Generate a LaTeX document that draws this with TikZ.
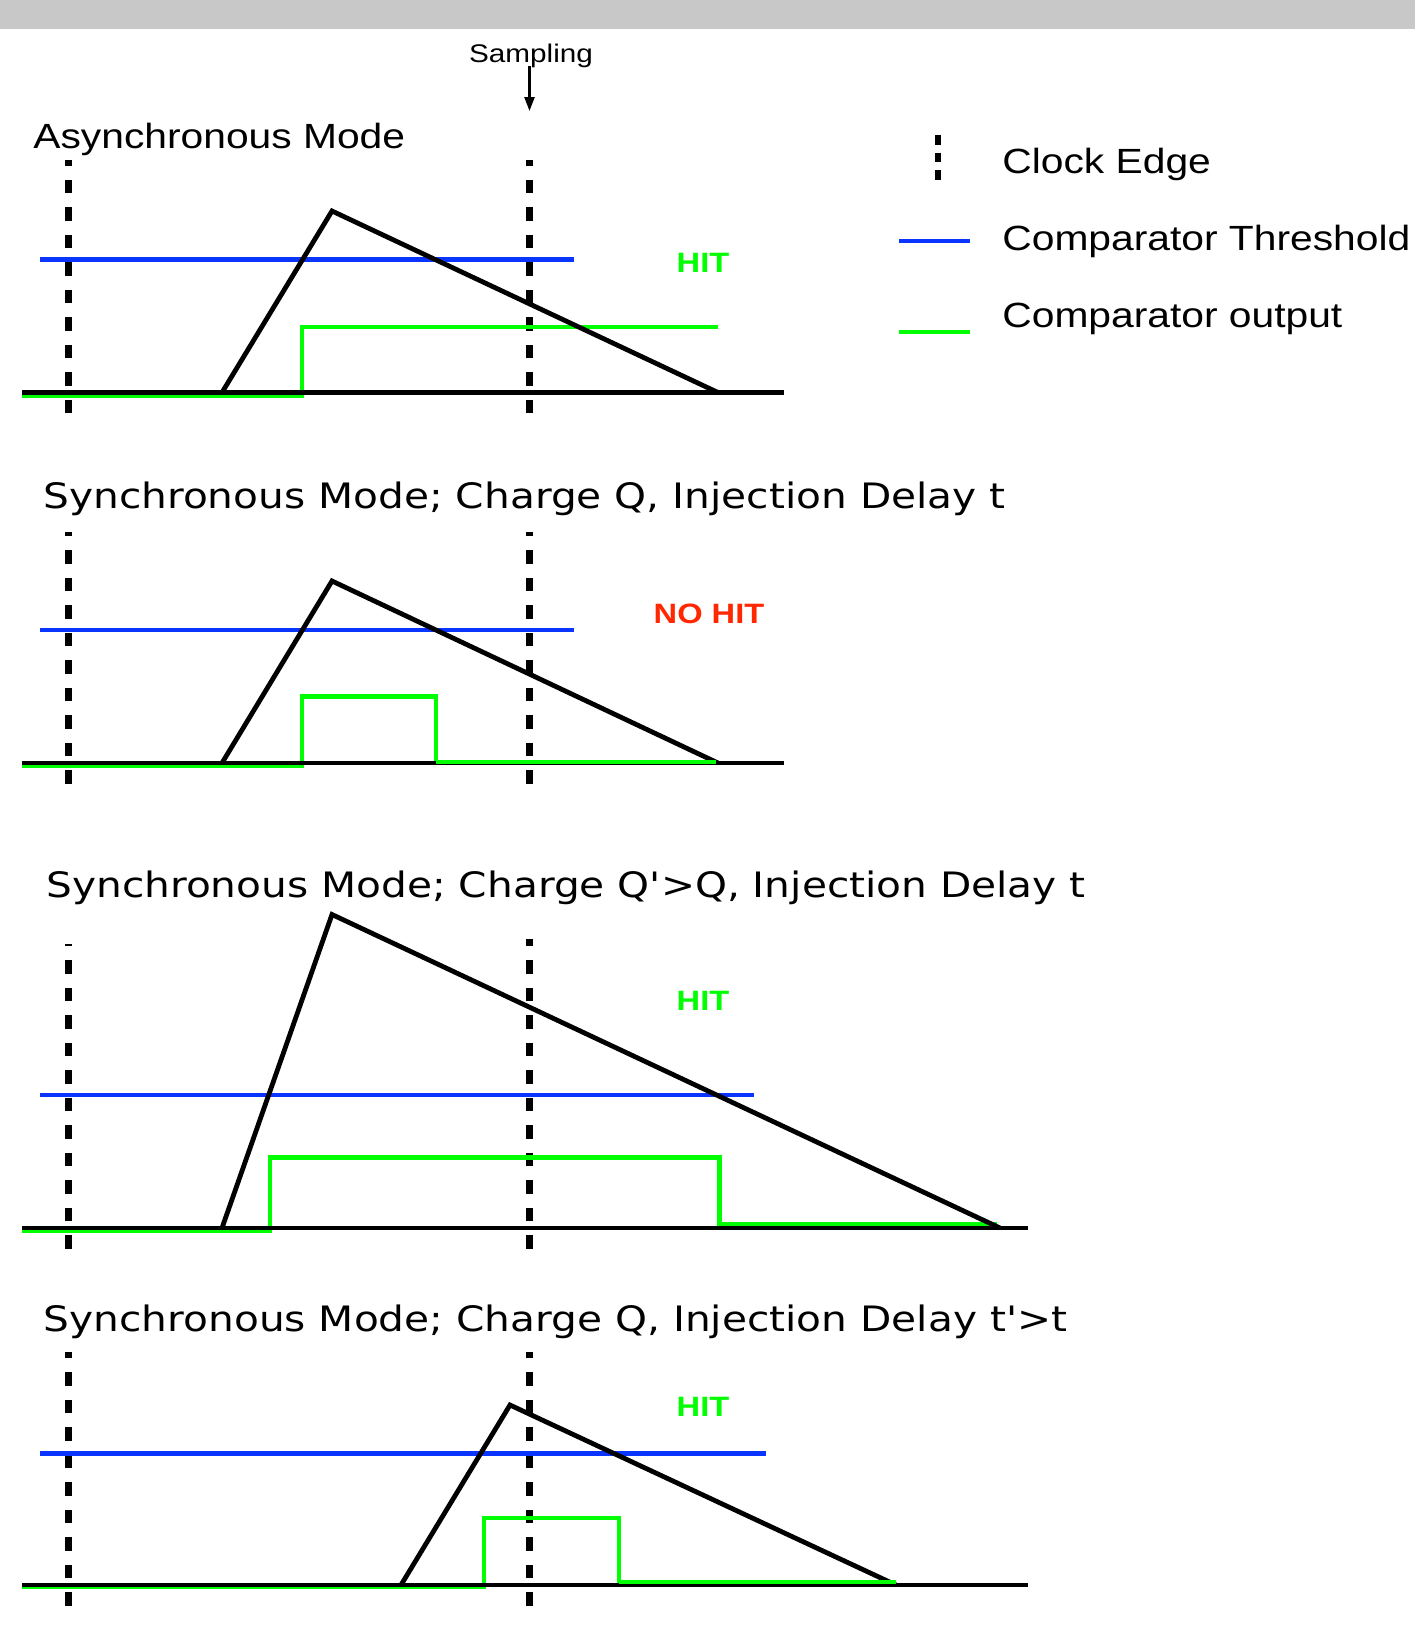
\documentclass[tikz,border=0pt]{standalone}
\usepackage{fontspec}
\setmainfont{Liberation Sans}
\newfontfamily\verafont{DejaVu Sans}
\usetikzlibrary{arrows.meta}

\definecolor{thrblue}{RGB}{10,52,255}
\definecolor{outgreen}{RGB}{0,255,0}
\definecolor{nohitred}{RGB}{255,40,0}
\definecolor{bargray}{RGB}{200,200,200}

% slightly widened lettering
\newcommand{\widetext}[1]{\scalebox{1.165}[1]{#1}}
\newcommand{\headwide}[1]{\scalebox{1.162}[1]{#1}}

\begin{document}
\begin{tikzpicture}[x=0.5pt,y=-0.5pt,
  clockedge/.style={line width=3.5pt, dash pattern=on 6.75pt off 7pt},
  keyedge/.style={line width=3pt, dash pattern=on 4.75pt off 4pt},
  threshold/.style={thrblue, line width=2.1pt},
  pulse/.style={black, line width=2.4pt, line join=miter},
  axisline/.style={black, line width=2.1pt},
  compout/.style={outgreen, line width=2.3pt, line join=miter},
  txt/.style={inner sep=0pt, anchor=base west, font=\fontsize{17.5pt}{21pt}\selectfont},
  headtext/.style={txt, font=\verafont\fontsize{17.5pt}{21pt}\selectfont},
  verdict/.style={inner sep=0pt, anchor=base, font=\bfseries\fontsize{14pt}{17pt}\selectfont}
]
% canvas and top bar
\fill[white] (0,0) rectangle (1415,1628);
\fill[bargray] (0,0) rectangle (1415,29);
\useasboundingbox (0,0) rectangle (1415,1628);

% sampling marker
\node[inner sep=0pt, anchor=base, font=\fontsize{12.75pt}{15pt}\selectfont] (sampling) at (531,62.5) {\widetext{Sampling}};
\coordinate (sampletip) at (529.5,111);
\draw[line width=1.2pt, -{Triangle[length=7pt,width=5pt]}] (529.5,66) -- (sampletip);

% legend
\node[txt] (keyclock) at (1002,173) {\widetext{Clock Edge}};
\node[txt] (keythr) at (1002,250) {\widetext{Comparator Threshold}};
\node[txt] (keyout) at (1002,327.5) {\widetext{Comparator output}};
\draw[keyedge] (937.5,135) -- (937.5,182);
\draw[threshold] (899,241) -- (970,241);
\draw[compout] (899,332) -- (970,332);

% ---------- Asynchronous mode ----------
\node[txt] (asyncttl) at (33,148.5) {\widetext{Asynchronous Mode}};
\draw[clockedge] (68.5,413) -- (68.5,160);
\draw[clockedge] (529.5,413) -- (529.5,160);
\draw[threshold] (39.5,259.5) -- (574,259.5);
\draw[compout] (22,396) -- (302,396) -- (302,327) -- (718,327);
\draw[pulse] (222,392.5) -- (332,211) -- (718,392.5);
\draw[axisline] (22,392.5) -- (784,392.5);
\node[verdict, text=outgreen] (hit1) at (703,272) {\widetext{HIT}};

% ---------- Synchronous mode, Q, t ----------
\node[headtext] (syncttl1) at (43,508) {\headwide{Synchronous Mode; Charge Q, Injection Delay t}};
\draw[clockedge] (68.5,783.5) -- (68.5,531.5);
\draw[clockedge] (529.5,783.5) -- (529.5,531.5);
\draw[threshold] (39.5,630) -- (574,630);
\draw[compout] (22,766) -- (302,766) -- (302,696.5) -- (436,696.5) -- (436,762) -- (716,762);
\draw[pulse] (222,763) -- (332,581) -- (718,763);
\draw[axisline] (22,763) -- (784,763);
\draw[compout] (436,762) -- (716,762);
\node[verdict, text=nohitred] (nohit2) at (709,623) {\widetext{NO HIT}};

% ---------- Synchronous mode, Q'>Q, t ----------
\node[headtext] (syncttl2) at (46,897) {\headwide{Synchronous Mode; Charge Q'>Q, Injection Delay t}};
\draw[clockedge] (68.5,1248.5) -- (68.5,944);
\draw[clockedge] (529.5,1248.5) -- (529.5,939);
\draw[threshold] (39.5,1095) -- (754,1095);
\draw[compout] (22,1231) -- (270,1231) -- (270,1157.5) -- (719.5,1157.5) -- (719.5,1224.5) -- (997,1224.5);
\draw[pulse] (222,1228) -- (332,914.5) -- (1000,1228);
\draw[axisline] (22,1228) -- (1028,1228);
\node[verdict, text=outgreen] (hit3) at (703,1010) {\widetext{HIT}};

% ---------- Synchronous mode, Q, t'>t ----------
\node[headtext] (syncttl3) at (43.5,1331) {\headwide{Synchronous Mode; Charge Q, Injection Delay t'>t}};
\draw[clockedge] (68.5,1605.5) -- (68.5,1352);
\draw[clockedge] (529.5,1605.5) -- (529.5,1352);
\draw[threshold] (39.5,1453.5) -- (766,1453.5);
\draw[compout] (22,1587) -- (484,1587) -- (484,1518) -- (619,1518) -- (619,1582) -- (896,1582);
\draw[pulse] (401,1585) -- (510,1405) -- (896,1585);
\draw[axisline] (22,1585) -- (1028,1585);
\draw[compout] (619,1582) -- (896,1582);
\node[verdict, text=outgreen] (hit4) at (703,1416) {\widetext{HIT}};
\end{tikzpicture}
\end{document}
